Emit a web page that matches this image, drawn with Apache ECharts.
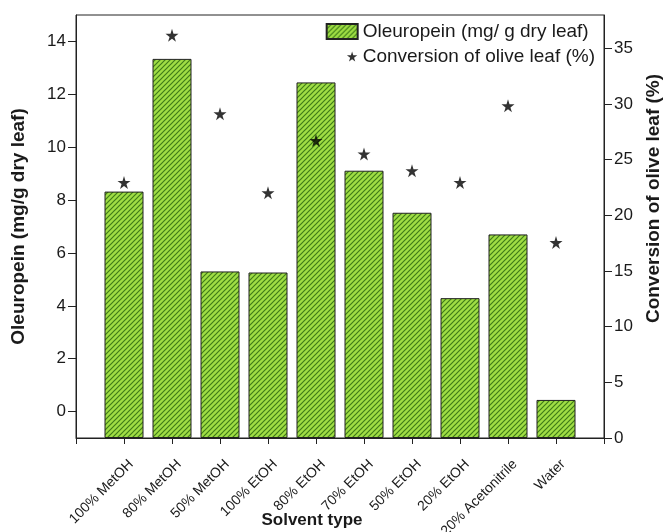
<!DOCTYPE html>
<html>
<head>
<meta charset="utf-8">
<script src="https://cdn.jsdelivr.net/npm/echarts@6/dist/echarts.min.js"></script>
<style>
  html, body { margin: 0; padding: 0; background: #fff; }
  #main { width: 663px; height: 532px; }
</style>
</head>
<body>
<div id="main"></div>
<script>
// solvents on the x axis
let solvents = ['100% MetOH', '80% MetOH', '50% MetOH', '100% EtOH', '80% EtOH',
    '70% EtOH', '50% EtOH', '20% EtOH', '20% Acetonitrile', 'Water'];
// mg / g dry leaf (left axis)
let oleuropein = [8.32, 13.34, 5.30, 5.26, 12.45, 9.11, 7.52, 4.29, 6.70, 0.44];
// % conversion (right axis)
let conversion = [22.96, 36.17, 29.12, 22.03, 26.72, 25.52, 24.01, 22.96, 29.84, 17.56];
let leftTicks = [0, 2, 4, 6, 8, 10, 12, 14];
let rightTicks = [0, 5, 10, 15, 20, 25, 30, 35];

const FONT = '"Liberation Sans", Arial, sans-serif';
const STAR = 'path://M50,0 L61,35 L98,35 L68,57 L79,91 L50,70 L21,91 L32,57 L2,35 L39,35 Z';
// same star with empty room round it so the legend icon comes out smaller and further right
const STAR_SMALL = 'path://M-182,-24 M50,115 M50,0 L61,35 L98,35 L68,57 L79,91 L50,70 L21,91 L32,57 L2,35 L39,35 Z';

// green with dark diagonal hatching
function hatch() {
    let c = document.createElement('canvas');
    c.width = 5;
    c.height = 5;
    let g = c.getContext('2d');
    g.fillStyle = '#A0DE44';
    g.fillRect(0, 0, 5, 5);
    g.strokeStyle = '#3F7C18';
    g.lineWidth = 1.2;
    g.beginPath();
    g.moveTo(-1, 6); g.lineTo(6, -1);
    g.moveTo(-1, 1); g.lineTo(1, -1);
    g.moveTo(4, 6); g.lineTo(6, 4);
    g.stroke();
    return c;
}

// pad one empty slot on each side so the axis runs a full band past the first/last bar
let cats = [''].concat(solvents, ['']);
let barData = [null].concat(oleuropein, [null]);
let starData = [null].concat(conversion, [null]);

let myChart = echarts.init(document.getElementById('main'));

let option = {
    animation: false,
    textStyle: {fontFamily: FONT, color: '#1a1a1a'},
    grid: {
        left: 76, right: 59, top: 15, bottom: 94,
        outerBoundsMode: 'none',
        containLabel: false,
        show: true, borderColor: '#222', borderWidth: 1
    },
    legend: {
        orient: 'vertical',
        right: 63,
        top: 17,
        itemWidth: 31,
        itemHeight: 15,
        itemGap: 6,
        textStyle: {fontSize: 19, color: '#1a1a1a', fontFamily: FONT},
        data: [
            {name: 'Oleuropein (mg/ g dry leaf)', icon: 'rect'},
            {name: 'Conversion of olive leaf (%)', icon: STAR_SMALL}
        ]
    },
    xAxis: {
        type: 'category',
        data: cats,
        boundaryGap: false,
        name: 'Solvent type',
        nameLocation: 'middle',
        nameGap: 74,
        nameMoveOverlap: false,
        nameTextStyle: {fontSize: 17, fontWeight: 'bold', color: '#1a1a1a', padding: [0, 56, 0, 0]},
        axisLine: {onZero: false, lineStyle: {color: '#222', width: 1}},
        axisTick: {show: true, length: 6, lineStyle: {color: '#222'}},
        axisLabel: {
            interval: 0, rotate: 45, fontSize: 14, lineHeight: 20, color: '#1a1a1a', margin: 17,
            // empty first line pushes the text down along the slant
            formatter: function (v) { return v ? '\n' + v : ''; }
        },
        splitLine: {show: false}
    },
    yAxis: [
        {
            type: 'value',
            min: -1,
            max: 15,
            startValue: -1,
            name: 'Oleuropein (mg/g dry leaf)',
            nameLocation: 'middle',
            nameRotate: 90,
            nameGap: 48,
            nameTextStyle: {fontSize: 19, fontWeight: 'bold', color: '#1a1a1a'},
            axisLine: {show: true, lineStyle: {color: '#222', width: 1}},
            axisTick: {show: true, length: 8, customValues: leftTicks, lineStyle: {color: '#222'}},
            axisLabel: {fontSize: 17, color: '#1a1a1a', margin: 10, customValues: leftTicks},
            splitLine: {show: false}
        },
        {
            type: 'value',
            min: 0,
            max: 38,
            position: 'right',
            name: 'Conversion of olive leaf (%)',
            nameLocation: 'middle',
            nameRotate: 90,
            nameGap: 38,
            nameTextStyle: {fontSize: 19, fontWeight: 'bold', color: '#1a1a1a', padding: [0, 0, 0, 56]},
            axisLine: {show: true, lineStyle: {color: '#222', width: 1}},
            axisTick: {show: true, length: 8, customValues: rightTicks, lineStyle: {color: '#222'}},
            axisLabel: {fontSize: 17, color: '#1a1a1a', margin: 10, customValues: rightTicks},
            splitLine: {show: false}
        }
    ],
    series: [
        {
            name: 'Oleuropein (mg/ g dry leaf)',
            type: 'bar',
            yAxisIndex: 0,
            barWidth: 39,
            data: barData,
            itemStyle: {
                color: {image: hatch(), repeat: 'repeat'},
                borderColor: '#222',
                borderWidth: 1
            }
        },
        {
            name: 'Conversion of olive leaf (%)',
            type: 'scatter',
            yAxisIndex: 1,
            symbol: STAR,
            symbolSize: 13,
            data: starData,
            itemStyle: {color: '#000'}
        }
    ]
};

myChart.setOption(option);
</script>
</body>
</html>
